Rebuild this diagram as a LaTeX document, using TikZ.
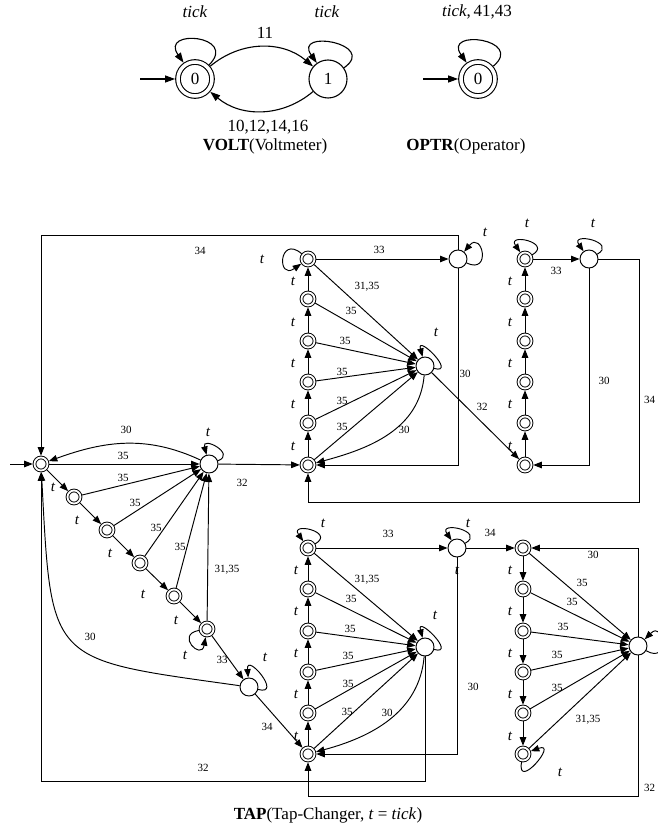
\documentclass[tikz,border=0pt]{standalone}
\usepackage{fontspec}
\setmainfont{Liberation Serif}
\usetikzlibrary{arrows.meta}

\tikzset{
  acc/.style={circle, draw, double, double distance=1.8pt, line width=0.95pt,
    minimum size=13pt, inner sep=0pt, outer sep=1.8pt},
  st/.style={circle, draw, line width=0.95pt, minimum size=18pt, inner sep=0pt},
  bigacc/.style={circle, draw, double, double distance=3.5pt, line width=1.1pt,
    minimum size=34pt, inner sep=0pt, outer sep=2.9pt, font=\fontsize{17}{20}\selectfont},
  bigst/.style={circle, draw, line width=1.1pt, minimum size=38pt, inner sep=0pt,
    font=\fontsize{17}{20}\selectfont},
  arr/.style={draw, line width=0.95pt, -{Triangle[length=8.5pt,width=6.5pt]}},
  bigarr/.style={draw, line width=1.1pt, -{Triangle[length=10pt,width=7pt]}},
  lp/.style={arr},
  biglp/.style={bigarr, distance=42pt},
  num/.style={font=\fontsize{11}{13}\selectfont, inner sep=0pt},
  tl/.style={font=\fontsize{15}{17}\selectfont\itshape, inner sep=0pt},
  big/.style={font=\fontsize{17}{20}\selectfont, inner sep=0pt}
}

\begin{document}
\begin{tikzpicture}[x=1pt, y=-1pt]
\useasboundingbox (0,0) rectangle (657,834);

% VOLT and OPTR
\node[bigacc] (V0) at (195,79) {0};
\node[bigst] (V1) at (328,79) {1};
\node[bigacc] (O0) at (478,79) {0};
\coordinate (sV) at (140,79);
\coordinate (sO) at (423,79);
\draw[bigarr] (sV) -- (V0);
\draw[bigarr] (sO) -- (O0);
\draw[biglp] (V0) to[out=45, in=125] (V0);
\draw[biglp] (V1) to[out=35, in=125] (V1);
\draw[biglp] (O0) to[out=40, in=125] (O0);
\draw[bigarr] (V0) to[bend left=40] (V1);
\draw[bigarr] (V1) to[bend left=40] (V0);
\node[big] (lV0) at (195,12) {\textit{tick}};
\node[big] (lV1) at (327,12) {\textit{tick}};
\node[big] (lO0) at (477,12) {\textit{tick},\,41,43};
\node[big] (l11) at (265,33) {11};
\node[big] (l10) at (268,127) {10,12,14,16};
\node[big] (cV) at (265,146) {\textbf{VOLT}(Voltmeter)};
\node[big] (cO) at (466,146) {\textbf{OPTR}(Operator)};

% TAP states
\node[acc] (T0) at (41,464) {};
\node[st] (H) at (209,464) {};
\node[acc] (c1) at (74,497) {};
\node[acc] (c2) at (107,530) {};
\node[acc] (c3) at (140,563) {};
\node[acc] (c4) at (174,596) {};
\node[acc] (c5) at (207,629) {};
\node[st] (L) at (249,687) {};
\node[st] (N) at (458,259) {};
\node[st] (H1) at (425,366) {};
\node[st] (P) at (589,259) {};
\node[st] (M) at (457,548) {};
\node[st] (H2) at (425,647) {};
\node[st] (H3) at (638,646) {};
\foreach \i/\y in {0/465,1/423,2/382,3/341,4/299,5/259} {
  \node[acc] (A\i) at (308,\y) {};
  \node[acc] (D\i) at (525,\y) {};
}
\foreach \i/\y in {0/754,1/713,2/672,3/631,4/589,5/548}
  \node[acc] (B\i) at (308,\y) {};
\foreach \i/\y in {0/548,1/589,2/631,3/672,4/713,5/754}
  \node[acc] (C\i) at (523,\y) {};
\coordinate (sT) at (10,464);

% left part
\draw[arr] (sT) -- (T0);
\draw[arr] (T0) -- (H);
\draw[arr] (H) to[out=155,in=20] (T0);
\draw[arr] (T0) -- (c1);
\draw[arr] (c1) -- (c2);
\draw[arr] (c2) -- (c3);
\draw[arr] (c3) -- (c4);
\draw[arr] (c4) -- (c5);
\foreach \s in {c1,c2,c3,c4,c5} \draw[arr] (\s) -- (H);
\draw[arr] (H) -- (A0);
\draw[arr] (c5) -- (L);
\draw[arr] (L) -- (B0);
\draw[arr] (L) to[out=172,in=-87,looseness=1.7] (T0);
\draw[lp] (H) to[out=20, in=105, distance=20pt] (H);
\draw[lp] (c5) to[out=190, in=260, distance=24pt] (c5);
\draw[lp] (L) to[out=-15, in=95, distance=26pt] (L);

% columns
\foreach \i [count=\j] in {0,...,4} {
  \draw[arr] (A\i) -- (A\j);
  \draw[arr] (D\i) -- (D\j);
  \draw[arr] (B\i) -- (B\j);
  \draw[arr] (C\i) -- (C\j);
}
\foreach \i in {0,...,5} {
  \draw[arr] (A\i) -- (H1);
  \draw[arr] (B\i) -- (H2);
  \draw[arr] (C\i) -- (H3);
}

% upper part
\draw[arr] (A5) -- (N);
\draw[arr] (N) |- (T0 |- 0,235) -- (T0);
\draw[arr] (N) |- (A0);
\draw[arr] (H1) to[out=-95,in=15] (A0);
\draw[arr] (H1) -- (D0);
\draw[arr] (D5) -- (P);
\draw[arr] (P) |- (D0);
\draw[arr] (P) -| (639,502) -| (A0);
\draw[lp] (A5) to[out=140, in=215, distance=30pt] (A5);
\draw[lp] (N) to[out=-25, in=50, distance=28pt] (N);
\draw[lp] (H1) to[out=-15, in=105, distance=24pt] (H1);
\draw[lp] (D5) to[out=30, in=125, distance=24pt] (D5);
\draw[lp] (P) to[out=30, in=125, distance=24pt] (P);

% lower part
\draw[arr] (B5) -- (M);
\draw[arr] (M) -- (C0);
\draw[arr] (M) |- (B0);
\draw[arr] (H2) to[out=-95,in=15] (B0);
\draw[arr] (H2) |- (T0 |- 0,781) -- (T0);
\draw[arr] (H3) |- (C0);
\draw[arr] (H3) |- (B0 |- 0,796) -- (B0);
\draw[lp] (B5) to[out=30, in=125, distance=24pt] (B5);
\draw[lp] (M) to[out=30, in=125, distance=24pt] (M);
\draw[lp] (H2) to[out=-15, in=105, distance=24pt] (H2);
\draw[lp] (C5) to[out=-100, in=20, distance=30pt] (C5);
\draw[lp] (H3) to[out=-30, in=45, distance=28pt] (H3);

% t labels
\foreach \y [count=\k] in {281,322,363,404,446} {
  \node[tl] (tA\k) at (293,\y) {t};
  \node[tl] (tD\k) at (510,\y) {t};
}
\foreach \y [count=\k] in {570,611,653,694,736} {
  \node[tl] (tB\k) at (296,\y) {t};
  \node[tl] (tC\k) at (510,\y) {t};
}
\foreach \x/\y [count=\k] in {53/487,77/520,110/553,143/594,176/620} \node[tl] (tc\k) at (\x,\y) {t};
\node[tl] (tc5) at (185,655) {t};
\node[tl] (tH) at (208,432) {t};
\node[tl] (tL) at (265,657) {t};
\node[tl] (tA5) at (262,259) {t};
\node[tl] (tN) at (485,232) {t};
\node[tl] (tH1) at (436,332) {t};
\node[tl] (tD5) at (527,223) {t};
\node[tl] (tP) at (593,223) {t};
\node[tl] (tB5) at (323,523) {t};
\node[tl] (tM) at (468,523) {t};
\node[tl] (tM2) at (457,570) {t};
\node[tl] (tH2) at (435,615) {t};
\node[tl] (tC5) at (560,772) {t};

% edge labels
\node[num] (n30a) at (126,430) {30};
\node[num] (n35a) at (123,456) {35};
\foreach \x/\y [count=\k] in {123/478,135/503,156/528,180/547} \node[num] (nc\k) at (\x,\y) {35};
\node[num] (n3135a) at (227,570) {31,35};
\node[num] (n32a) at (242,483) {32};
\node[num] (n33a) at (222,660) {33};
\node[num] (n30b) at (90,637) {30};
\node[num] (n34a) at (267,727) {34};
\node[num] (n32b) at (203,768) {32};
\node[num] (n34b) at (200,251) {34};
\node[num] (n33b) at (379,250) {33};
\node[num] (n3135b) at (367,287) {31,35};
\foreach \x/\y [count=\k] in {351/311,345/341,342/372,342/401,342/427} \node[num] (nA\k) at (\x,\y) {35};
\node[num] (n30c) at (404,430) {30};
\node[num] (n30d) at (465,374) {30};
\node[num] (n32c) at (482,407) {32};
\node[num] (n33c) at (556,271) {33};
\node[num] (n30e) at (604,381) {30};
\node[num, anchor=west] (n34c) at (644,400) {34};
\node[num] (n33d) at (388,534) {33};
\node[num] (n34d) at (490,533) {34};
\node[num] (n3135c) at (367,580) {31,35};
\foreach \x/\y [count=\k] in {351/599,350/629,348/656,348/684,347/712} \node[num] (nB\k) at (\x,\y) {35};
\node[num] (n30f) at (387,713) {30};
\node[num] (n30g) at (473,687) {30};
\node[num] (n30h) at (593,555) {30};
\foreach \x/\y [count=\k] in {582/583,572/602,563/627,557/655,557/688} \node[num] (nC\k) at (\x,\y) {35};
\node[num] (n3135d) at (588,720) {31,35};
\node[num, anchor=west] (n32d) at (644,788) {32};

\node[big] (cT) at (328,815) {\textbf{TAP}(Tap-Changer, \textit{t} = \textit{tick})};
\end{tikzpicture}
\end{document}
